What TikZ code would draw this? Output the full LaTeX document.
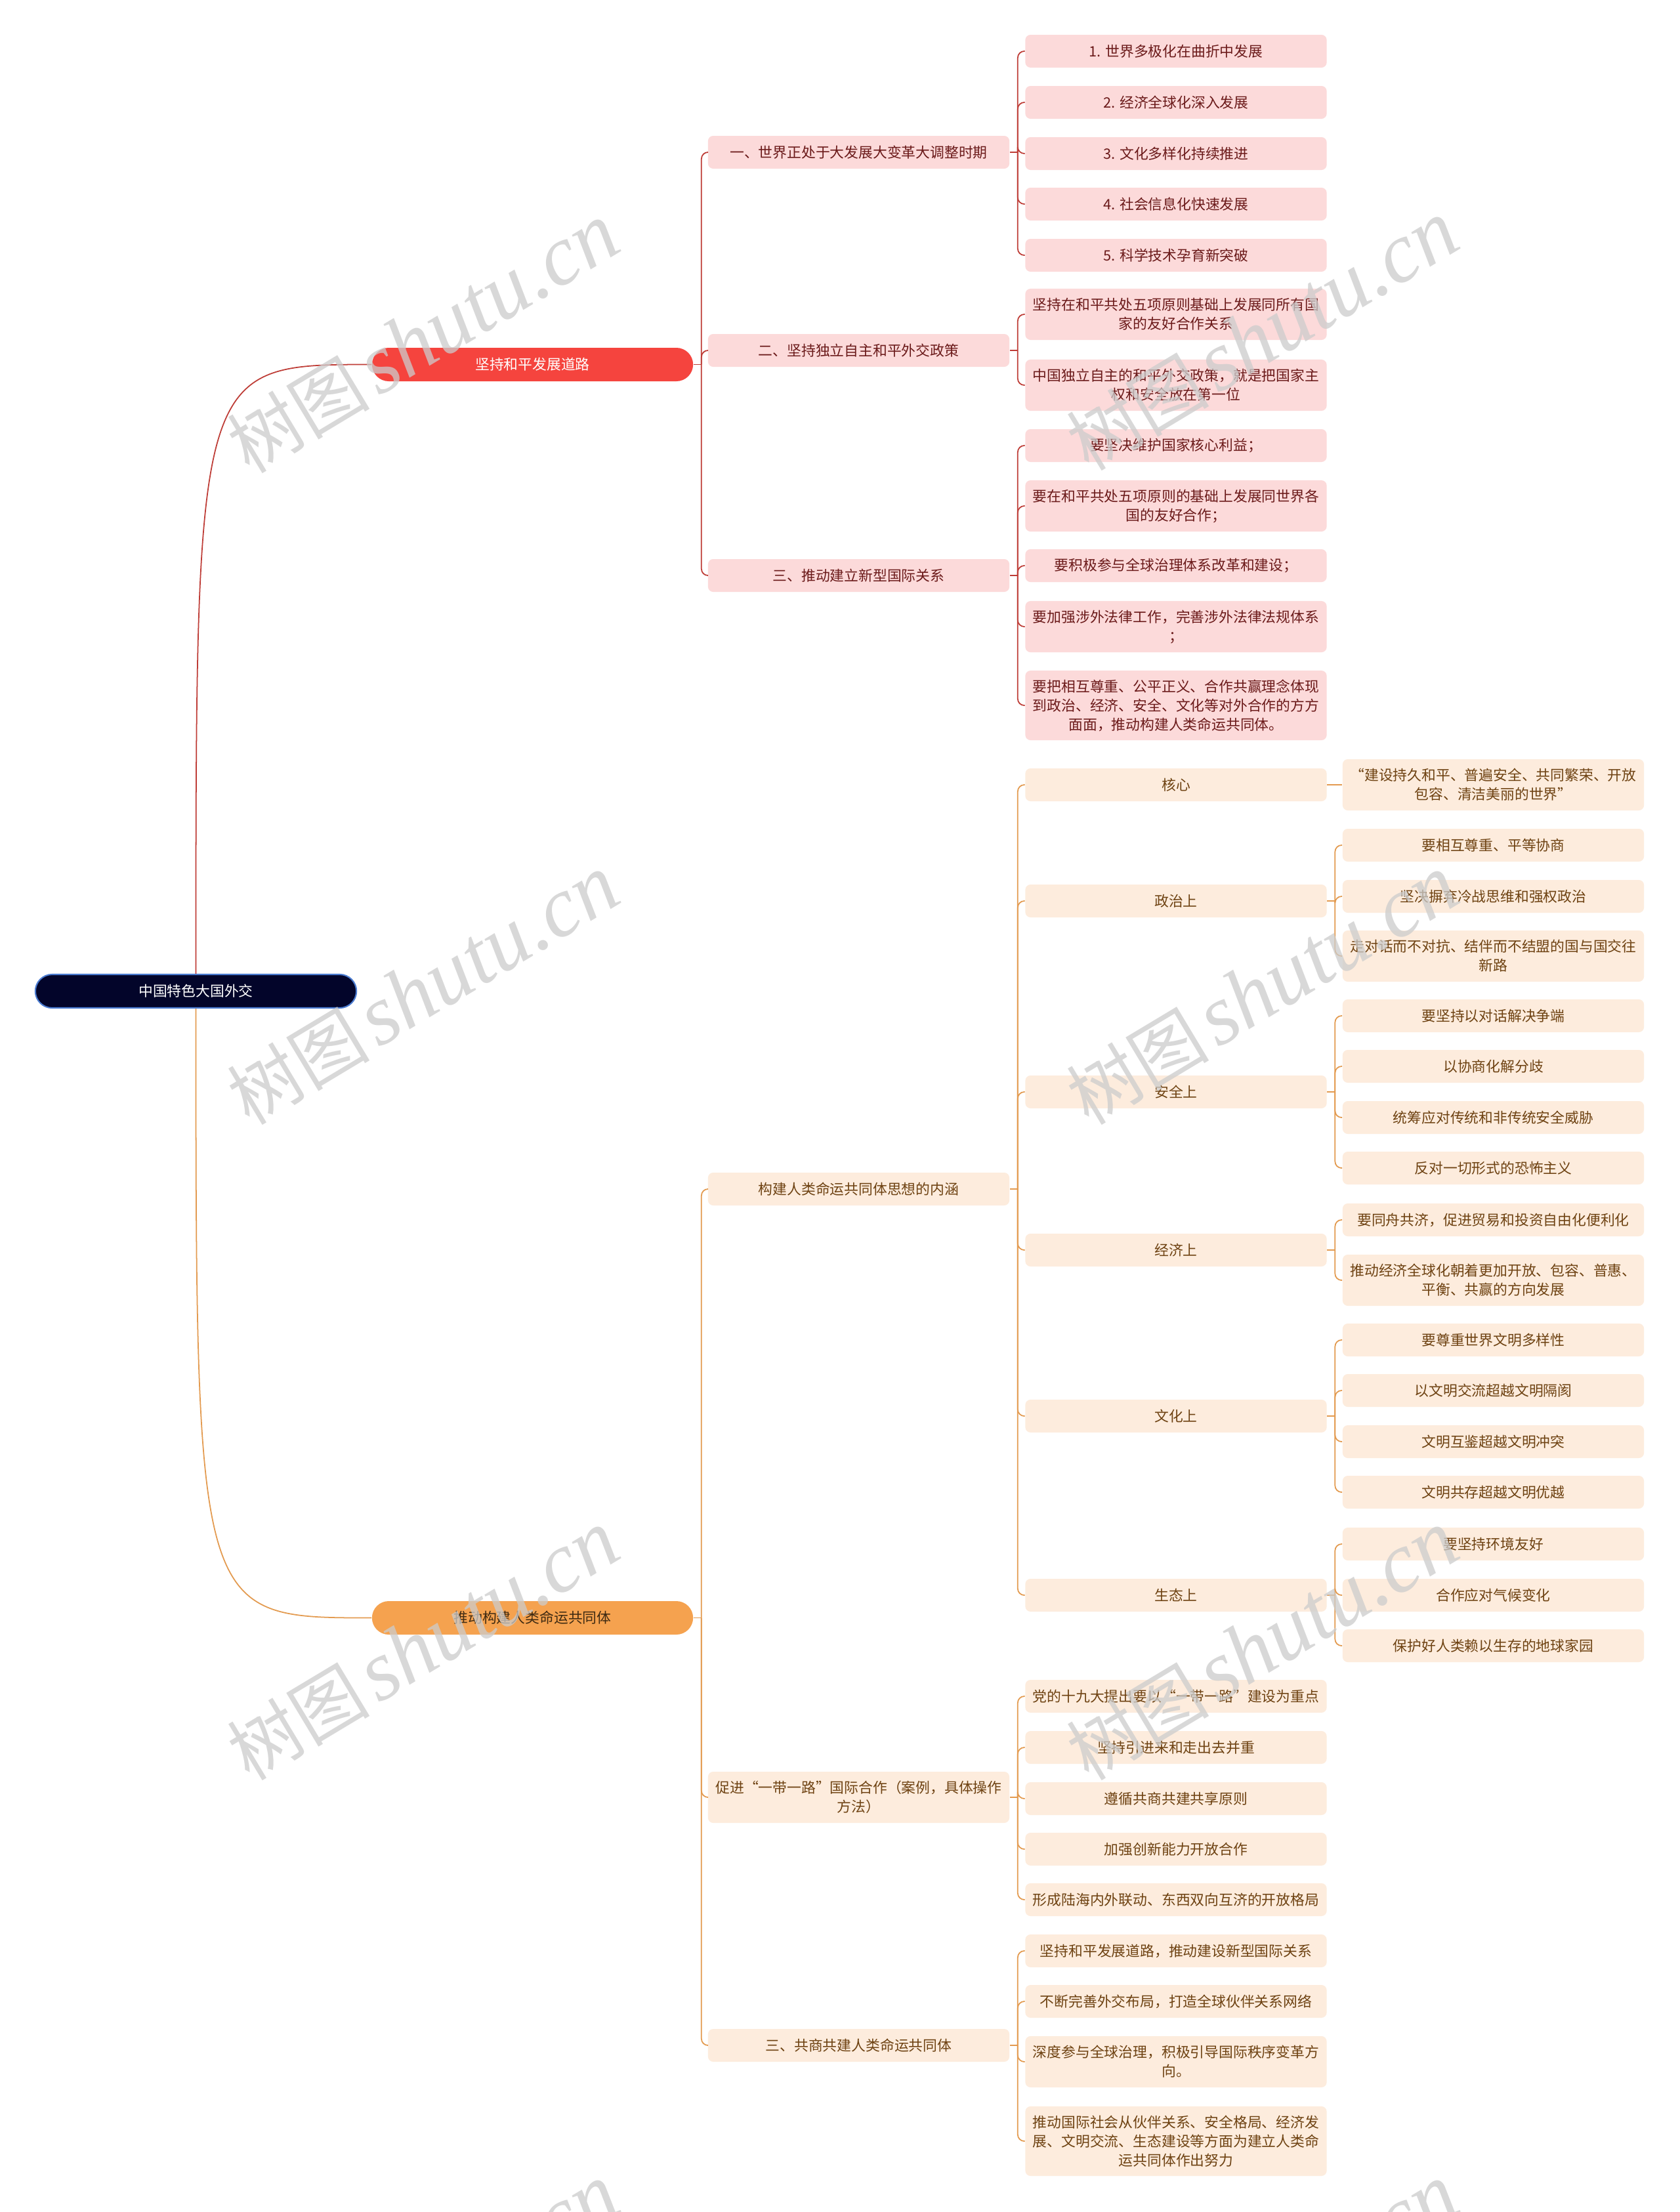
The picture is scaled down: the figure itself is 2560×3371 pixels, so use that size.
\documentclass[tikz,border=0pt]{standalone}
\usepackage{fontspec}
\newfontfamily\cjk{Noto Sans CJK SC}
\newfontfamily\wmlat{Liberation Serif}
\usetikzlibrary{calc}
\definecolor{rootfill}{HTML}{03052A}
\definecolor{rootborder}{HTML}{4A7BD0}
\definecolor{redfill}{HTML}{F5443E}
\definecolor{redline}{HTML}{BE3C36}
\definecolor{pinkfill}{HTML}{FCDADA}
\definecolor{pinktext}{HTML}{6B1A1A}
\definecolor{orgfill}{HTML}{F5A24F}
\definecolor{orgtext}{HTML}{3E2A12}
\definecolor{orgline}{HTML}{E39A4F}
\definecolor{creamfill}{HTML}{FDECDD}
\definecolor{creamtext}{HTML}{6E4212}
\newcommand\mmbranch[3]{%
  \draw[#1] (#2.east) -- ($(#2.east)+(12,0)$);
  \foreach \c in {#3} {\draw[#1, rounded corners=0.1cm] ($(#2.east)+(12,0)$) |- (\c.west);}
}
\tikzset{
  base/.style={font=\cjk\fontsize{6.2pt}{8.25pt}\selectfont, align=center, inner sep=0pt, rounded corners=0.08cm},
  pill/.style={base, minimum width=4.89cm, minimum height=0.51cm, rounded corners=0.255cm},
  rootbox/.style={pill, fill=rootfill, draw=rootborder, line width=0.6pt, text=white},
  redbox/.style={pill, fill=redfill, text=white},
  orgbox/.style={pill, fill=orgfill, text=orgtext},
  pinkbox/.style={base, fill=pinkfill, text=pinktext, minimum width=4.59cm, minimum height=0.50cm},
  creambox/.style={base, fill=creamfill, text=creamtext, minimum width=4.59cm, minimum height=0.50cm},
  two/.style={minimum height=0.78cm},
  three/.style={minimum height=1.06cm},
  rl/.style={draw=redline, line width=0.5pt},
  ol/.style={draw=orgline, line width=0.5pt},
  wm/.style={rotate=31, text=black!20, opacity=0.75, inner sep=0pt}
}
\begin{document}
\begin{tikzpicture}[x=0.01cm, y=-0.01cm]
\useasboundingbox (0,0) rectangle (2560,3371);
\fill[white] (0,0) rectangle (2560,3371);

% root and level 1
\node[rootbox] (root) at (298.5,1510.5) {中国特色大国外交};
\node[redbox] (n1) at (811.5,555.5) {坚持和平发展道路};
\node[orgbox] (n2) at (811.5,2465.5) {推动构建人类命运共同体};

% branch 1 level 2
\node[pinkbox] (a1) at (1308.5,232) {一、世界正处于大发展大变革大调整时期};
\node[pinkbox] (a2) at (1308.5,534) {二、坚持独立自主和平外交政策};
\node[pinkbox] (a3) at (1308.5,877) {三、推动建立新型国际关系};

% branch 1 level 3
\node[pinkbox] (a11) at (1792,78) {1. 世界多极化在曲折中发展};
\node[pinkbox] (a12) at (1792,156) {2. 经济全球化深入发展};
\node[pinkbox] (a13) at (1792,234) {3. 文化多样化持续推进};
\node[pinkbox] (a14) at (1792,311) {4. 社会信息化快速发展};
\node[pinkbox] (a15) at (1792,389) {5. 科学技术孕育新突破};

\node[pinkbox,two] (a21) at (1792,479) {坚持在和平共处五项原则基础上发展同所有国\\家的友好合作关系};
\node[pinkbox,two] (a22) at (1792,587) {中国独立自主的和平外交政策，就是把国家主\\权和安全放在第一位};

\node[pinkbox] (a31) at (1792,679) {要坚决维护国家核心利益；};
\node[pinkbox,two] (a32) at (1792,771) {要在和平共处五项原则的基础上发展同世界各\\国的友好合作；};
\node[pinkbox] (a33) at (1792,862) {要积极参与全球治理体系改革和建设；};
\node[pinkbox,two] (a34) at (1792,955) {要加强涉外法律工作，完善涉外法律法规体系\\；};
\node[pinkbox,three] (a35) at (1792,1075) {要把相互尊重、公平正义、合作共赢理念体现\\到政治、经济、安全、文化等对外合作的方方\\面面，推动构建人类命运共同体。};

% branch 2 level 2
\node[creambox] (b1) at (1308.5,1812) {构建人类命运共同体思想的内涵};
\node[creambox,two] (b2) at (1308.5,2739) {促进“一带一路”国际合作（案例，具体操作\\方法）};
\node[creambox] (b3) at (1308.5,3117) {三、共商共建人类命运共同体};

% branch 2 level 3 (under b1)
\node[creambox] (c1) at (1792,1196) {核心};
\node[creambox] (c2) at (1792,1373) {政治上};
\node[creambox] (c3) at (1792,1664) {安全上};
\node[creambox] (c4) at (1792,1905) {经济上};
\node[creambox] (c5) at (1792,2158) {文化上};
\node[creambox] (c6) at (1792,2431) {生态上};

% level 4
\node[creambox,two] (c11) at (2275.5,1196) {“建设持久和平、普遍安全、共同繁荣、开放\\包容、清洁美丽的世界”};
\node[creambox] (c21) at (2275.5,1288) {要相互尊重、平等协商};
\node[creambox] (c22) at (2275.5,1366) {坚决摒弃冷战思维和强权政治};
\node[creambox,two] (c23) at (2275.5,1457) {走对话而不对抗、结伴而不结盟的国与国交往\\新路};
\node[creambox] (c31) at (2275.5,1548) {要坚持以对话解决争端};
\node[creambox] (c32) at (2275.5,1625) {以协商化解分歧};
\node[creambox] (c33) at (2275.5,1703) {统筹应对传统和非传统安全威胁};
\node[creambox] (c34) at (2275.5,1780) {反对一切形式的恐怖主义};
\node[creambox] (c41) at (2275.5,1859) {要同舟共济，促进贸易和投资自由化便利化};
\node[creambox,two] (c42) at (2275.5,1951) {推动经济全球化朝着更加开放、包容、普惠、\\平衡、共赢的方向发展};
\node[creambox] (c51) at (2275.5,2042) {要尊重世界文明多样性};
\node[creambox] (c52) at (2275.5,2119) {以文明交流超越文明隔阂};
\node[creambox] (c53) at (2275.5,2197) {文明互鉴超越文明冲突};
\node[creambox] (c54) at (2275.5,2274) {文明共存超越文明优越};
\node[creambox] (c61) at (2275.5,2353) {要坚持环境友好};
\node[creambox] (c62) at (2275.5,2431) {合作应对气候变化};
\node[creambox] (c63) at (2275.5,2508) {保护好人类赖以生存的地球家园};

% under b2
\node[creambox] (d1) at (1792,2585) {党的十九大提出要以“一带一路”建设为重点};
\node[creambox] (d2) at (1792,2663) {坚持引进来和走出去并重};
\node[creambox] (d3) at (1792,2741) {遵循共商共建共享原则};
\node[creambox] (d4) at (1792,2818) {加强创新能力开放合作};
\node[creambox] (d5) at (1792,2895) {形成陆海内外联动、东西双向互济的开放格局};

% under b3
\node[creambox] (e1) at (1792,2973) {坚持和平发展道路，推动建设新型国际关系};
\node[creambox] (e2) at (1792,3050) {不断完善外交布局，打造全球伙伴关系网络};
\node[creambox,two] (e3) at (1792,3142) {深度参与全球治理，积极引导国际秩序变革方\\向。};
\node[creambox,three] (e4) at (1792,3263) {推动国际社会从伙伴关系、安全格局、经济发\\展、文明交流、生态建设等方面为建立人类命\\运共同体作出努力};

% connectors
\draw[rl] (root.north) .. controls (root.north |- n1.west) and (root.north |- n1.west) .. (n1.west);
\draw[ol] (root.south) .. controls (root.south |- n2.west) and (root.south |- n2.west) .. (n2.west);
\mmbranch{rl}{n1}{a1,a2,a3}
\mmbranch{rl}{a1}{a11,a12,a13,a14,a15}
\mmbranch{rl}{a2}{a21,a22}
\mmbranch{rl}{a3}{a31,a32,a33,a34,a35}
\mmbranch{ol}{n2}{b1,b2,b3}
\mmbranch{ol}{b1}{c1,c2,c3,c4,c5,c6}
\draw[ol] (c1.east) -- (c11.west);
\mmbranch{ol}{c2}{c21,c22,c23}
\mmbranch{ol}{c3}{c31,c32,c33,c34}
\mmbranch{ol}{c4}{c41,c42}
\mmbranch{ol}{c5}{c51,c52,c53,c54}
\mmbranch{ol}{c6}{c61,c62,c63}
\mmbranch{ol}{b2}{d1,d2,d3,d4,d5}
\mmbranch{ol}{b3}{e1,e2,e3,e4}

% watermarks
\begin{scope}
\clip (0,0) rectangle (2560,3371);
\foreach \wx/\wy in {645/516, 1924/512, 645/1509, 1924/1509, 645/2508, 1924/2508, 645/3504, 1924/3504}
  \node[wm] at (\wx,\wy) {{\cjk\fontsize{31pt}{31pt}\selectfont 树图} {\wmlat\itshape\fontsize{37pt}{37pt}\selectfont shutu.cn}};
\end{scope}
\end{tikzpicture}
\end{document}
